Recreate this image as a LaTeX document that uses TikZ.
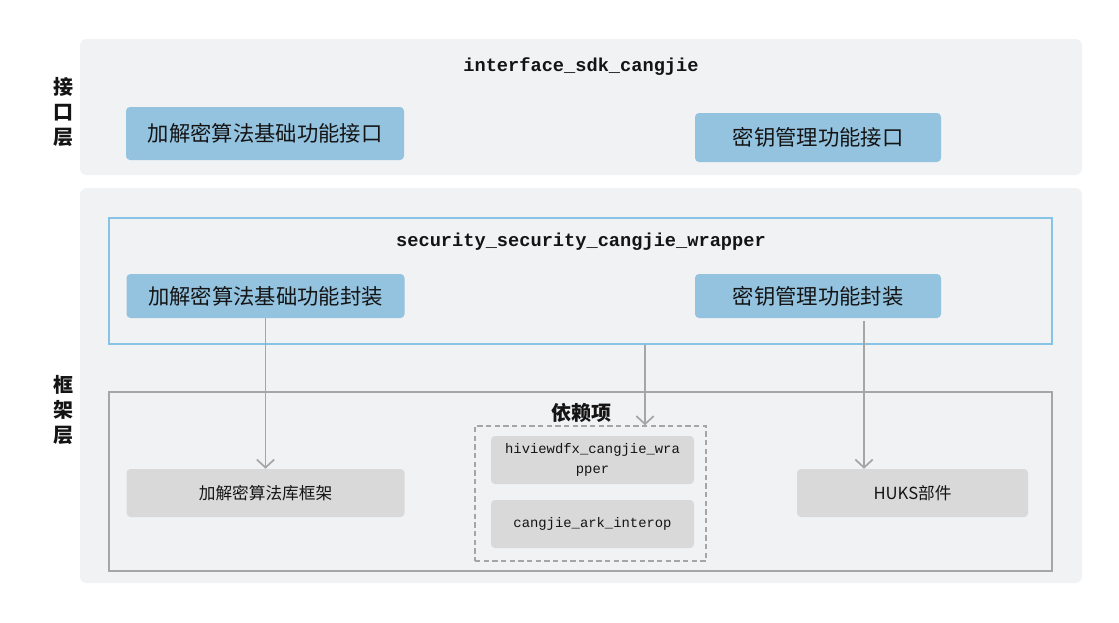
\documentclass[tikz,border=0pt]{standalone}
\usepackage{fontspec}
\usepackage{tikz}
\usetikzlibrary{arrows.meta, positioning, calc}
\setmainfont{Noto Sans CJK SC}
\setmonofont{Liberation Mono}
\definecolor{panelgray}{RGB}{241,242,244}
\definecolor{boxblue}{RGB}{148,195,224}
\definecolor{wrapblue}{RGB}{135,195,228}
\definecolor{boxgray}{RGB}{217,217,217}
\definecolor{linegray}{RGB}{166,166,166}
\definecolor{mytext}{RGB}{20,20,20}
\tikzset{
  panel/.style={rectangle, draw=none, fill=panelgray, rounded corners=5pt},
  bluebox/.style={rectangle, fill=boxblue, rounded corners=3pt,
    font=\fontsize{16pt}{19pt}\selectfont, text=mytext},
  graybox/.style={rectangle, fill=boxgray, rounded corners=3pt,
    font=\fontsize{12.5pt}{15pt}\selectfont, text=mytext},
  monobox/.style={graybox, font=\ttfamily\fontsize{10.4pt}{15pt}\selectfont,
    align=center},
  wrapframe/.style={rectangle, draw=wrapblue, line width=1.5pt},
  depframe/.style={rectangle, draw=linegray, line width=1.5pt},
  dashframe/.style={rectangle, draw=linegray, line width=1.1pt,
    dash pattern=on 4pt off 2.5pt},
  sidelabel/.style={font=\bfseries\fontsize{15pt}{19pt}\selectfont,
    align=center, text=mytext},
  titletext/.style={font=\ttfamily\bfseries\fontsize{14pt}{16pt}\selectfont,
    text=mytext},
  arrow/.style={-{Straight Barb[length=6pt, width=13pt, line width=1.3pt]},
    line width=1.3pt, color=linegray}
}

\begin{document}
\begin{tikzpicture}[x=0.75pt, y=-0.75pt]
  \useasboundingbox (0,0) rectangle (1119,622);

  % layer panels
  \node[panel, minimum width=751.5pt, minimum height=102pt] (ifpanel) at (581,107) {};
  \node[panel, minimum width=751.5pt, minimum height=296.25pt] (fwpanel) at (581,385.5) {};
  \node[sidelabel] (iflabel) at (63,112) {接\\口\\层};
  \node[sidelabel] (fwlabel) at (63,410) {框\\架\\层};

  % interface layer
  \node[titletext] (sdktitle) at (581,67) {interface\_sdk\_cangjie};
  \node[bluebox, minimum width=208.5pt, minimum height=39.75pt] (cryptoif) at (265,133.5) {加解密算法基础功能接口};
  \node[bluebox, minimum width=184.5pt, minimum height=36.75pt] (keyif) at (818,137.5) {密钥管理功能接口};

  % framework layer
  \node[wrapframe, minimum width=707.25pt, minimum height=94.5pt] (wrapper) at (580.5,281) {};
  \node[titletext] (wraptitle) at (581,242) {security\_security\_cangjie\_wrapper};
  \node[bluebox, minimum width=208.5pt, minimum height=33pt] (cryptowrap) at (265.5,296) {加解密算法基础功能封装};
  \node[bluebox, minimum width=184.5pt, minimum height=33pt] (keywrap) at (818,296) {密钥管理功能封装};

  \node[depframe, minimum width=707.25pt, minimum height=134.25pt] (deps) at (580.5,481.5) {};
  \node[sidelabel] (depstitle) at (581,413) {依赖项};
  \node[dashframe, minimum width=173.25pt, minimum height=101.25pt] (depbox) at (590.5,493.5) {};
  \node[monobox, minimum width=152.25pt, minimum height=36pt] (hiview) at (592.5,460) {hiviewdfx\_cangjie\_wra\\pper};
  \node[monobox, minimum width=152.25pt, minimum height=36pt] (arkinterop) at (592.5,524) {cangjie\_ark\_interop};
  \node[graybox, minimum width=208.5pt, minimum height=36pt] (cryptolib) at (265.5,493) {加解密算法库框架};
  \node[graybox, minimum width=173.25pt, minimum height=36pt] (huks) at (912.5,493) {HUKS部件};

  \draw[arrow] (cryptowrap.south) -- (cryptowrap.south |- cryptolib.north);
  \draw[arrow] ([xshift=48.4pt]wrapper.south) -- ([xshift=48.4pt]wrapper.south |- depbox.north);
  \draw[arrow, shorten <=2pt] ([xshift=34.5pt]keywrap.south) -- ([xshift=34.5pt]keywrap.south |- huks.north);
\end{tikzpicture}
\end{document}
